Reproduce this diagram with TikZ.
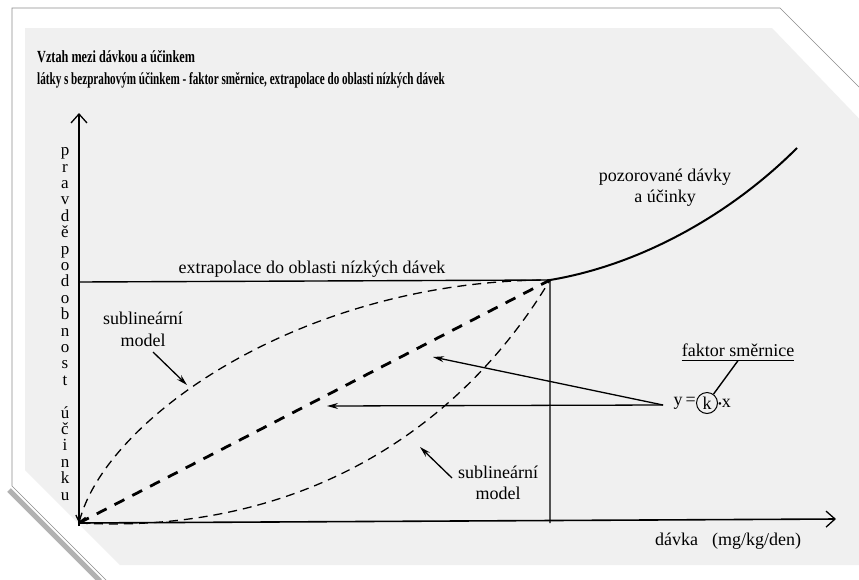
\documentclass[tikz,border=0pt]{standalone}
\usepackage{fontspec}
\setmainfont{Liberation Serif}
\usetikzlibrary{arrows.meta}
\begin{document}
\begin{tikzpicture}[x=1pt,y=-1pt,
  lbl/.style={font=\fontsize{18}{21}\selectfont, inner sep=0pt, align=center},
  ttl/.style={font=\bfseries\fontsize{17}{19}\selectfont, inner sep=0pt, anchor=base west},
  axis/.style={line width=1.6pt, -{Straight Barb[length=9pt,width=16pt,line width=1.3pt]}},
  thinln/.style={line width=1.4pt},
  dsh/.style={line width=1.3pt, dash pattern=on 9pt off 6pt},
  bolddsh/.style={line width=2.8pt, dash pattern=on 11pt off 9pt},
  arr/.style={line width=1.3pt, -{Stealth[length=11pt,width=6pt]}},
]
\useasboundingbox (0,0) rectangle (859,579);
\fill[white] (0,0) rectangle (859,579);
% shadow and card
\draw[black!30, line width=5pt] (9,490) -- (100,581);
\filldraw[fill=white, draw=black!45, line width=0.6pt] (12,8) -- (780,8) -- (875,103) -- (875,590) -- (116,590) -- (12,486) -- cycle;
\fill[black!6] (25,28) -- (772,28) -- (870,130) -- (870,565) -- (120,565) -- (25,470) -- cycle;

% titles
\node[ttl] (t1) at (37,62) {\scalebox{0.72}[1]{Vztah mezi dávkou a účinkem}};
\node[ttl] (t2) at (37,84) {\scalebox{0.655}[1]{látky s bezprahovým účinkem - faktor směrnice, extrapolace do oblasti nízkých dávek}};

% coordinates
\coordinate (O) at (79,523);
\coordinate (ybot) at (79,526);
\coordinate (ytop) at (79,113);
\coordinate (xend) at (836,519);
\coordinate (P) at (550,280);
\coordinate (Q) at (797,148);
\coordinate (hl) at (79,282);
\coordinate (vb) at (550,523);

% axes
\draw[axis] (ybot) -- (ytop);
\draw[axis] (O) -- (xend);
\draw[thinln] (hl) -- (P) -- (vb);
\draw[line width=2pt] (P) .. controls (640,265) and (730,215) .. (Q);

% models
\draw[dsh, {Straight Barb[length=6pt,width=10pt]}-] (O) .. controls (105,420) and (300,280) .. (P);
\draw[bolddsh] (O) -- (P);
\draw[dsh] (O) .. controls (300,535) and (460,430) .. (P);

% labels
\node[lbl] (obs) at (665,188) {pozorované dávky\\a účinky};
\node[lbl] (extr) at (312,269) {extrapolace do oblasti nízkých dávek};
\node[lbl, font=\fontsize{18}{22}\selectfont] (sub1) at (143,329) {sublineární\\model};
\node[lbl] (sub2) at (498,483) {sublineární\\model};
\node[font=\fontsize{17}{16.4}\selectfont, align=center, inner sep=0pt, anchor=north] (ylab) at (65,147.5)
  {p\\r\\a\\v\\d\\ě\\p\\o\\d\\o\\b\\n\\o\\s\\t\\[16.4pt]ú\\č\\i\\n\\k\\u};
\node[lbl, anchor=base west] (xlab) at (655,545) {dávka\hspace{14pt}(mg/kg/den)};

% equation
\node[lbl, anchor=east] (yeq) at (696,403) {y\,=};
\node[lbl, circle, draw, line width=1pt, minimum size=21pt, inner sep=0pt] (k) at (707,403) {k};
\node[lbl, anchor=west] (xx) at (718,403) {\scalebox{0.6}{\textbullet}x};
\node[lbl] (fs) at (738,350) {faktor směrnice};
\draw[line width=1.2pt] (fs.south west) ++(0,4) coordinate (ul1) -- (fs.south east |- ul1);
\draw[thinln] (fs.south) ++(0,4) -- (k);

% arrows
\coordinate (src) at (663,405);
\coordinate (t1) at (327,406);
\coordinate (t2) at (433,357);
\draw[arr] (src) -- (t1);
\draw[arr] (src) -- (t2);
\coordinate (a1s) at (153,352);
\coordinate (a1e) at (187,385);
\draw[arr] (a1s) -- (a1e);
\coordinate (a2s) at (452,478);
\coordinate (a2e) at (420,447);
\draw[arr] (a2s) -- (a2e);
\end{tikzpicture}
\end{document}
